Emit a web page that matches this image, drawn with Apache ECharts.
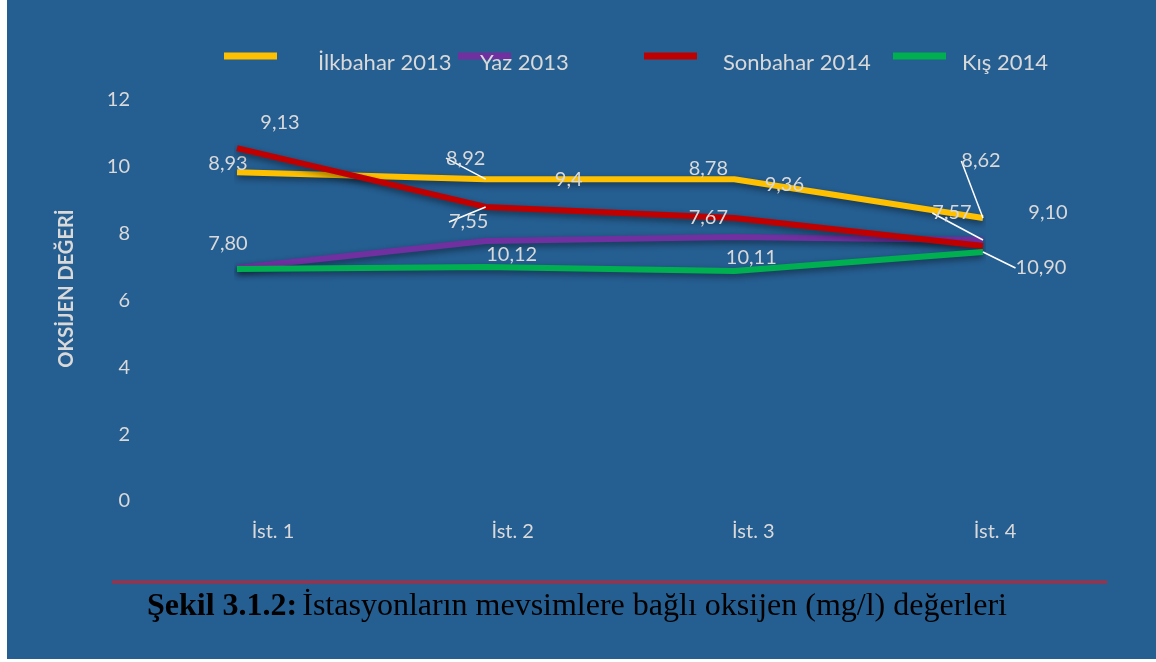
<!DOCTYPE html>
<html>
<head>
<meta charset="utf-8">
<script src="https://cdn.jsdelivr.net/npm/echarts@6/dist/echarts.min.js"></script>
<style>
  html, body { margin: 0; padding: 0; background: #fff; }
  #main { position: absolute; left: 7px; top: 0; width: 1149px; height: 659px; }
</style>
</head>
<body>
<div id="main"></div>
<script>
// istasyonlar
var stations = ['İst. 1', 'İst. 2', 'İst. 3', 'İst. 4'];
var seriesNames = ['İlkbahar 2013', 'Yaz 2013', 'Sonbahar 2014', 'Kış 2014'];

// cizgi degerleri
var ilkbahar = [9.84, 9.63, 9.63, 8.47];
var yaz = [6.97, 7.78, 7.90, 7.81];
var sonbahar = [10.56, 8.80, 8.47, 7.63];
var kis = [6.94, 7.00, 6.88, 7.45];

// veri etiketleri (grafikte yazan)
var ilkbaharLbl = ['8,93', '8,92', '8,78', '8,62'];
var yazLbl = ['7,80', '9,4', '9,36', '7,57'];
var sonbaharLbl = ['9,13', '7,55', '7,67', '9,10'];
var kisLbl = ['', '10,12', '10,11', '10,90'];

var yTicks = [0, 2, 4, 6, 8, 10, 12];

// etiket kaydirmalari ve kilavuz cizgileri
var lblOffsets = [
  [[-9, -9], [-20, -21], [-26, -11], [-2, -57]],
  [[-9, -25], [83, -61], [50, -52], [-31, -27]],
  [[43, -26], [-17, 15], [-26, 0], [65, -33]],
  [[0, 0], [26, -13], [17, -14], [58, 16]]
];
var lblLines = [
  [false, true, false, true],
  [false, false, false, true],
  [false, true, false, false],
  [false, false, false, true]
];
var catShift = [72, 54, 38, 24];

var colors = ['#FFC000', '#7030A0', '#C00000', '#00B050'];
var txt = '#D9D9D9';
var font = 'Lato, "Open Sans", sans-serif';
var serif = '"Liberation Serif", "Times New Roman", serif';

function buildData(vals, lbls, si) {
  return vals.map(function (v, i) {
    return {
      value: v,
      label: { formatter: lbls[i] },
      labelLine: { show: lblLines[si][i] }
    };
  });
}

function makeSeries(name, vals, lbls, si) {
  return {
    name: name,
    type: 'line',
    data: buildData(vals, lbls, si),
    color: colors[si],
    symbol: 'circle',
    symbolSize: 0,
    showSymbol: true,
    lineStyle: {
      width: 6, color: colors[si],
      shadowColor: 'rgba(0,0,0,0.45)', shadowBlur: 6, shadowOffsetY: 3
    },
    label: {
      show: true, position: 'inside', color: txt,
      fontFamily: font, fontSize: 20
    },
    labelLine: { show: false, lineStyle: { color: '#fff', width: 1.5 } },
    labelLayout: function (p) {
      var o = lblOffsets[si][p.dataIndex];
      return { dx: o[0], dy: o[1] };
    },
    emphasis: { disabled: true },
    z: 2 + si
  };
}

var legendLefts = [217, 451, 637, 886];
var legendPad = [36, -36, 21, 11];

var legends = seriesNames.map(function (n, i) {
  return {
    data: [n],
    left: legendLefts[i],
    top: 52,
    padding: 0,
    icon: 'rect',
    itemWidth: 53,
    itemHeight: 7,
    formatter: function (name) { return '{t|' + name + '}'; },
    textStyle: {
      rich: {
        t: {
          color: txt, fontFamily: font, fontSize: 22,
          padding: [14, 0, 0, legendPad[i]]
        }
      }
    },
    selectedMode: false
  };
});

var rich = {};
catShift.forEach(function (s, i) {
  rich['c' + i] = { color: txt, fontFamily: font, fontSize: 20, padding: [0, 0, 0, s] };
});

var chart = echarts.init(document.getElementById('main'));
chart.setOption({
  backgroundColor: '#255E91',
  animation: false,
  legend: legends,
  title: {
    text: '{b|Şekil 3.1.2:} {r|İstasyonların mevsimlere bağlı oksijen (mg/l) değerleri}',
    left: 140,
    top: 591,
    padding: 0,
    textStyle: {
      rich: {
        b: { fontFamily: serif, fontSize: 32, fontWeight: 'bold', color: '#000' },
        r: { fontFamily: serif, fontSize: 32, fontWeight: 'normal', color: '#000' }
      }
    }
  },
  graphic: [{
    type: 'line',
    shape: { x1: 105, y1: 582, x2: 1100, y2: 582 },
    style: { stroke: '#E8141B', lineWidth: 2 },
    silent: true
  }],
  grid: { left: 230, right: 173, top: 100, bottom: 158 },
  xAxis: {
    type: 'category',
    data: stations,
    boundaryGap: false,
    axisLine: { show: false },
    axisTick: { show: false },
    splitLine: { show: false },
    axisLabel: {
      margin: 21,
      formatter: function (v, i) { return '{c' + i + '|' + v + '}'; },
      rich: rich
    }
  },
  yAxis: {
    type: 'value',
    min: yTicks[0],
    max: yTicks[yTicks.length - 1],
    interval: 2,
    name: 'OKSİJEN DEĞERİ',
    nameLocation: 'middle',
    nameGap: 160,
    nameTextStyle: {
      color: txt, fontFamily: font, fontSize: 20, fontWeight: 'bold',
      padding: [0, 0, 0, 24]
    },
    axisLine: { show: false },
    axisTick: { show: false },
    splitLine: { show: false },
    axisLabel: { color: txt, fontFamily: font, fontSize: 20, margin: 107 }
  },
  series: [
    makeSeries(seriesNames[0], ilkbahar, ilkbaharLbl, 0),
    makeSeries(seriesNames[1], yaz, yazLbl, 1),
    makeSeries(seriesNames[2], sonbahar, sonbaharLbl, 2),
    makeSeries(seriesNames[3], kis, kisLbl, 3)
  ]
});
</script>
</body>
</html>
